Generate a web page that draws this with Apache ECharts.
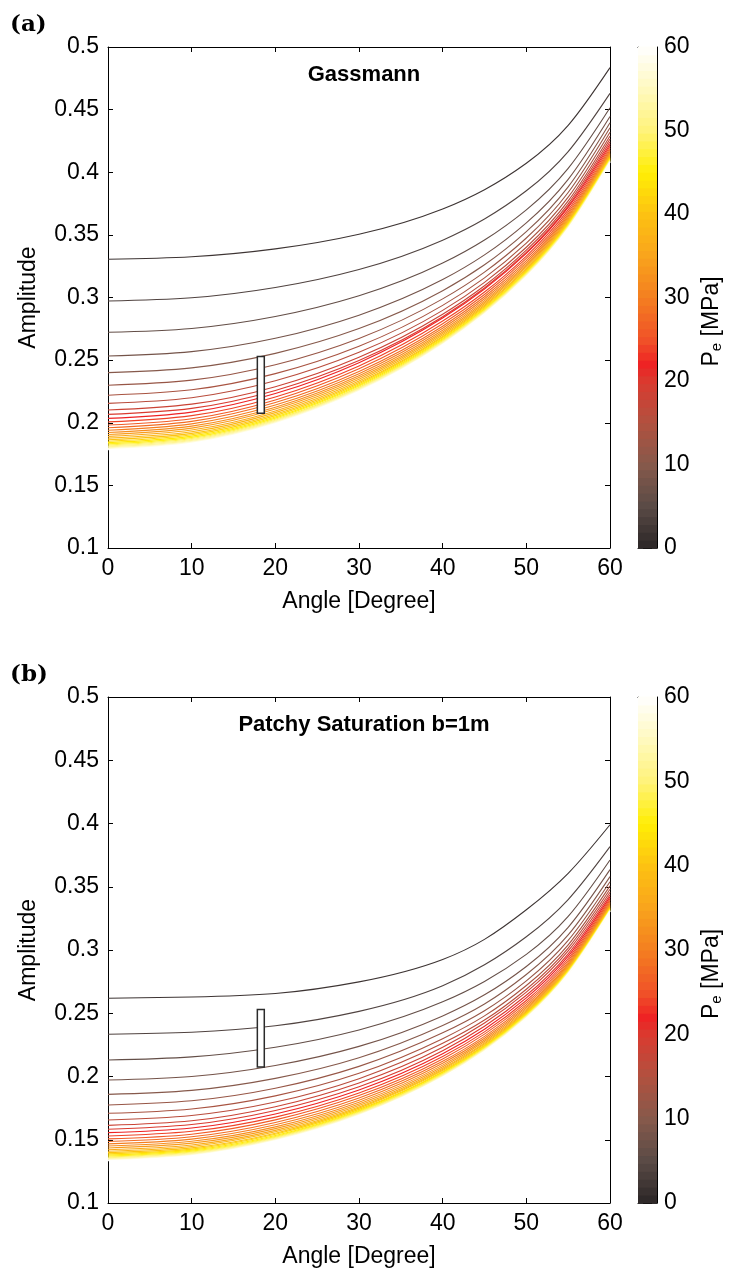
<!DOCTYPE html>
<html>
<head>
<meta charset="utf-8">
<script src="https://cdn.jsdelivr.net/npm/echarts@6/dist/echarts.min.js"></script>
<style>
  html, body { margin: 0; padding: 0; background: #ffffff; }
  #chart { width: 732px; height: 1272px; }
</style>
</head>
<body>
<div id="chart"></div>
<script>
// Incidence angles (degrees) at which each amplitude curve is sampled
const angles = [0, 10, 20, 30, 40, 45, 50, 55, 60];

// Effective pressure of each curve [MPa]
const pressures = [2, 4, 6, 8, 10, 12, 14, 16, 18, 20, 22, 24, 26, 28, 30,
                   32, 34, 36, 38, 40, 42, 44, 46, 48, 50, 52, 54, 56, 58, 60];

// Gassmann amplitudes, one row per pressure, one column per angle
const gassmann = [
  [0.3305, 0.3325, 0.3388, 0.3505, 0.3707, 0.3861, 0.4072, 0.4374, 0.4835],
  [0.2972, 0.2998, 0.3080, 0.3224, 0.3458, 0.3627, 0.3852, 0.4165, 0.4630],
  [0.2722, 0.2753, 0.2848, 0.3014, 0.3275, 0.3459, 0.3700, 0.4031, 0.4515],
  [0.2533, 0.2568, 0.2674, 0.2859, 0.3143, 0.3340, 0.3596, 0.3943, 0.4445],
  [0.2400, 0.2438, 0.2554, 0.2752, 0.3054, 0.3261, 0.3526, 0.3883, 0.4395],
  [0.2299, 0.2340, 0.2463, 0.2673, 0.2989, 0.3203, 0.3475, 0.3838, 0.4355],
  [0.2220, 0.2263, 0.2392, 0.2611, 0.2937, 0.3157, 0.3434, 0.3801, 0.4320],
  [0.2155, 0.2200, 0.2335, 0.2562, 0.2897, 0.3121, 0.3401, 0.3771, 0.4290],
  [0.2102, 0.2149, 0.2288, 0.2523, 0.2867, 0.3094, 0.3378, 0.3748, 0.4265],
  [0.2067, 0.2115, 0.2258, 0.2497, 0.2846, 0.3076, 0.3360, 0.3730, 0.4243],
  [0.2035, 0.2085, 0.2233, 0.2480, 0.2836, 0.3067, 0.3352, 0.3719, 0.4224],
  [0.2007, 0.2057, 0.2206, 0.2454, 0.2812, 0.3044, 0.3331, 0.3699, 0.4207],
  [0.1982, 0.2032, 0.2182, 0.2431, 0.2790, 0.3024, 0.3312, 0.3682, 0.4192],
  [0.1960, 0.2011, 0.2161, 0.2410, 0.2771, 0.3006, 0.3294, 0.3666, 0.4178],
  [0.1940, 0.1991, 0.2141, 0.2392, 0.2754, 0.2990, 0.3279, 0.3652, 0.4166],
  [0.1922, 0.1973, 0.2124, 0.2376, 0.2739, 0.2975, 0.3265, 0.3640, 0.4155],
  [0.1906, 0.1957, 0.2109, 0.2361, 0.2725, 0.2962, 0.3253, 0.3628, 0.4145],
  [0.1891, 0.1942, 0.2094, 0.2347, 0.2712, 0.2950, 0.3242, 0.3618, 0.4136],
  [0.1877, 0.1928, 0.2081, 0.2334, 0.2700, 0.2938, 0.3231, 0.3609, 0.4128],
  [0.1864, 0.1915, 0.2068, 0.2322, 0.2689, 0.2928, 0.3222, 0.3600, 0.4121],
  [0.1852, 0.1904, 0.2057, 0.2312, 0.2680, 0.2919, 0.3213, 0.3593, 0.4115],
  [0.1841, 0.1893, 0.2046, 0.2302, 0.2670, 0.2910, 0.3205, 0.3586, 0.4109],
  [0.1831, 0.1883, 0.2037, 0.2293, 0.2662, 0.2903, 0.3198, 0.3580, 0.4104],
  [0.1822, 0.1874, 0.2028, 0.2284, 0.2655, 0.2896, 0.3192, 0.3574, 0.4099],
  [0.1814, 0.1866, 0.2020, 0.2277, 0.2648, 0.2889, 0.3186, 0.3569, 0.4095],
  [0.1807, 0.1859, 0.2014, 0.2271, 0.2642, 0.2884, 0.3181, 0.3564, 0.4091],
  [0.1800, 0.1852, 0.2007, 0.2265, 0.2637, 0.2879, 0.3176, 0.3560, 0.4088],
  [0.1794, 0.1846, 0.2001, 0.2259, 0.2632, 0.2874, 0.3172, 0.3556, 0.4085],
  [0.1789, 0.1841, 0.1997, 0.2255, 0.2628, 0.2870, 0.3168, 0.3553, 0.4082],
  [0.1784, 0.1836, 0.1992, 0.2250, 0.2624, 0.2867, 0.3165, 0.3550, 0.4080]
];

// Patchy saturation (b = 1 m) amplitudes, same layout
const patchy = [
  [0.2618, 0.2629, 0.2656, 0.2748, 0.2925, 0.3084, 0.3318, 0.3606, 0.3990],
  [0.2334, 0.2350, 0.2401, 0.2515, 0.2717, 0.2883, 0.3105, 0.3399, 0.3817],
  [0.2130, 0.2155, 0.2231, 0.2368, 0.2590, 0.2751, 0.2965, 0.3265, 0.3711],
  [0.1972, 0.2000, 0.2087, 0.2238, 0.2479, 0.2646, 0.2870, 0.3179, 0.3635],
  [0.1859, 0.1890, 0.1985, 0.2148, 0.2403, 0.2573, 0.2806, 0.3119, 0.3580],
  [0.1775, 0.1808, 0.1907, 0.2080, 0.2345, 0.2520, 0.2756, 0.3076, 0.3540],
  [0.1709, 0.1743, 0.1847, 0.2025, 0.2299, 0.2479, 0.2719, 0.3041, 0.3507],
  [0.1656, 0.1692, 0.1798, 0.1983, 0.2262, 0.2446, 0.2690, 0.3015, 0.3480],
  [0.1614, 0.1650, 0.1761, 0.1949, 0.2231, 0.2423, 0.2667, 0.2993, 0.3457],
  [0.1583, 0.1620, 0.1731, 0.1919, 0.2204, 0.2397, 0.2642, 0.2970, 0.3437],
  [0.1556, 0.1593, 0.1704, 0.1894, 0.2180, 0.2374, 0.2621, 0.2951, 0.3420],
  [0.1530, 0.1567, 0.1679, 0.1870, 0.2158, 0.2353, 0.2601, 0.2933, 0.3405],
  [0.1507, 0.1544, 0.1657, 0.1849, 0.2138, 0.2335, 0.2584, 0.2917, 0.3392],
  [0.1486, 0.1524, 0.1637, 0.1830, 0.2120, 0.2317, 0.2568, 0.2903, 0.3380],
  [0.1467, 0.1505, 0.1618, 0.1812, 0.2104, 0.2302, 0.2554, 0.2891, 0.3370],
  [0.1450, 0.1488, 0.1602, 0.1797, 0.2090, 0.2289, 0.2542, 0.2880, 0.3361],
  [0.1435, 0.1473, 0.1588, 0.1783, 0.2077, 0.2277, 0.2531, 0.2870, 0.3353],
  [0.1421, 0.1459, 0.1574, 0.1770, 0.2066, 0.2266, 0.2521, 0.2861, 0.3346],
  [0.1409, 0.1447, 0.1563, 0.1759, 0.2056, 0.2257, 0.2512, 0.2854, 0.3340],
  [0.1398, 0.1436, 0.1552, 0.1750, 0.2047, 0.2248, 0.2505, 0.2847, 0.3335],
  [0.1388, 0.1426, 0.1543, 0.1740, 0.2038, 0.2241, 0.2498, 0.2841, 0.3330],
  [0.1379, 0.1418, 0.1534, 0.1732, 0.2031, 0.2234, 0.2492, 0.2836, 0.3326],
  [0.1371, 0.1410, 0.1526, 0.1725, 0.2024, 0.2227, 0.2486, 0.2831, 0.3322],
  [0.1364, 0.1403, 0.1520, 0.1719, 0.2019, 0.2222, 0.2481, 0.2827, 0.3319],
  [0.1358, 0.1397, 0.1514, 0.1713, 0.2014, 0.2218, 0.2477, 0.2823, 0.3316],
  [0.1352, 0.1391, 0.1508, 0.1708, 0.2009, 0.2213, 0.2473, 0.2819, 0.3313],
  [0.1347, 0.1386, 0.1503, 0.1703, 0.2005, 0.2209, 0.2469, 0.2816, 0.3311],
  [0.1342, 0.1381, 0.1499, 0.1699, 0.2001, 0.2206, 0.2466, 0.2814, 0.3309],
  [0.1338, 0.1377, 0.1495, 0.1695, 0.1997, 0.2202, 0.2463, 0.2811, 0.3307],
  [0.1334, 0.1373, 0.1491, 0.1692, 0.1994, 0.2199, 0.2460, 0.2809, 0.3305]
];

// Measured range box: [angle from, angle to, amplitude low, amplitude high]
const rangeBox = [17.85, 18.68, 0.2075, 0.2529];

// Axis ranges
const angleRange = [0, 60, 10];
const ampRange = [0.1, 0.5, 0.05];
const pressureRange = [0, 60, 10];

// Colormap for pressure: dark -> brown -> red -> orange -> yellow -> white
const cmapStops = [
  [0, '#2a2526'], [5, '#5a4b46'], [10, '#86594b'], [15, '#b1513f'],
  [20, '#da3a2f'], [22, '#ee2224'], [25, '#f05228'], [30, '#f47e20'],
  [35, '#f9a41c'], [40, '#fdc212'], [45, '#ffee05'], [50, '#fff37a'],
  [55, '#fff9bf'], [60, '#ffffff']
];

function hexToRgb(h) {
  return [parseInt(h.slice(1, 3), 16), parseInt(h.slice(3, 5), 16), parseInt(h.slice(5, 7), 16)];
}
function pressureColor(p) {
  for (let i = 1; i < cmapStops.length; i++) {
    const [p1, c1] = cmapStops[i];
    const [p0, c0] = cmapStops[i - 1];
    if (p <= p1) {
      const t = (p - p0) / (p1 - p0);
      const a = hexToRgb(c0), b = hexToRgb(c1);
      const c = a.map((v, k) => Math.round(v + (b[k] - v) * t));
      return 'rgb(' + c.join(',') + ')';
    }
  }
  return cmapStops[cmapStops.length - 1][1];
}

// Smooth path through pixel points: natural cubic spline written as bezier segments
function splinePath(pts) {
  const n = pts.length;
  const h = [], d = [];
  for (let i = 0; i < n - 1; i++) {
    h[i] = pts[i + 1][0] - pts[i][0];
    d[i] = (pts[i + 1][1] - pts[i][1]) / h[i];
  }
  const M = new Array(n).fill(0);
  if (n > 2) {
    const a = [], b = [], c = [], r = [];
    for (let i = 1; i < n - 1; i++) {
      a.push(h[i - 1]); b.push(2 * (h[i - 1] + h[i])); c.push(h[i]); r.push(6 * (d[i] - d[i - 1]));
    }
    const m = b.length;
    for (let i = 1; i < m; i++) {
      const w = a[i] / b[i - 1];
      b[i] -= w * c[i - 1];
      r[i] -= w * r[i - 1];
    }
    const sol = new Array(m);
    sol[m - 1] = r[m - 1] / b[m - 1];
    for (let i = m - 2; i >= 0; i--) sol[i] = (r[i] - c[i] * sol[i + 1]) / b[i];
    for (let i = 0; i < m; i++) M[i + 1] = sol[i];
  }
  let path = 'M' + pts[0][0] + ' ' + pts[0][1];
  for (let i = 0; i < n - 1; i++) {
    const s0 = d[i] - h[i] * (2 * M[i] + M[i + 1]) / 6;
    const s1 = d[i] + h[i] * (M[i] + 2 * M[i + 1]) / 6;
    const [x0, y0] = pts[i];
    const [x1, y1] = pts[i + 1];
    path += ' C' + (x0 + h[i] / 3) + ' ' + (y0 + s0 * h[i] / 3) + ' ' +
            (x1 - h[i] / 3) + ' ' + (y1 - s1 * h[i] / 3) + ' ' + x1 + ' ' + y1;
  }
  return path;
}

const FONT = '"Liberation Sans", Arial, Helvetica, sans-serif';
const INK = '#000000';
const LABEL_SIZE = 23;

const panels = [
  { top: 47, height: 501, values: gassmann, title: 'Gassmann', tag: '(a)' },
  { top: 697, height: 506, values: patchy, title: 'Patchy Saturation b=1m', tag: '(b)' }
];

const PLOT_LEFT = 108, PLOT_WIDTH = 502;
const BAR_LEFT = 638, BAR_WIDTH = 19;
const CMAP_LEVELS = 64;

const grid = [], xAxis = [], yAxis = [], series = [], graphic = [];

function boxAxis(base, extra) {
  return Object.assign({
    type: 'value',
    splitLine: { show: false },
    axisLine: { show: true, onZero: false, lineStyle: { color: INK, width: 1 } },
    axisTick: { show: true, inside: true, length: 5, lineStyle: { color: INK, width: 1 } },
    axisLabel: { show: false },
    animation: false
  }, base, extra || {});
}

panels.forEach((p, idx) => {
  const gPlot = grid.length;
  grid.push({ left: PLOT_LEFT, top: p.top, width: PLOT_WIDTH, height: p.height, containLabel: false });
  const gBar = grid.length;
  grid.push({ left: BAR_LEFT, top: p.top, width: BAR_WIDTH, height: p.height, containLabel: false });

  const labelStyle = { show: true, fontSize: LABEL_SIZE, fontFamily: FONT, color: INK };
  const nameStyle = { fontSize: LABEL_SIZE, fontFamily: FONT, color: INK };

  // plot axes (box with inward ticks)
  const xBottom = xAxis.length;
  xAxis.push(boxAxis({ gridIndex: gPlot, position: 'bottom', min: angleRange[0], max: angleRange[1], interval: angleRange[2] }, {
    axisLabel: Object.assign({ margin: 9 }, labelStyle),
    name: 'Angle [Degree]', nameLocation: 'middle', nameGap: 42, nameTextStyle: nameStyle
  }));
  xAxis.push(boxAxis({ gridIndex: gPlot, position: 'top', min: angleRange[0], max: angleRange[1], interval: angleRange[2] }));
  const yLeft = yAxis.length;
  yAxis.push(boxAxis({ gridIndex: gPlot, position: 'left', min: ampRange[0], max: ampRange[1], interval: ampRange[2] }, {
    axisLabel: Object.assign({ margin: 9 }, labelStyle),
    name: 'Amplitude', nameLocation: 'middle', nameGap: 68, nameRotate: 90, nameTextStyle: nameStyle
  }));
  yAxis.push(boxAxis({ gridIndex: gPlot, position: 'right', min: ampRange[0], max: ampRange[1], interval: ampRange[2] }));

  // colorbar axes
  const xBar = xAxis.length;
  xAxis.push(boxAxis({ gridIndex: gBar, position: 'bottom', min: 0, max: 1 }, { axisTick: { show: false } }));
  xAxis.push(boxAxis({ gridIndex: gBar, position: 'top', min: 0, max: 1 }, { axisTick: { show: false } }));
  const yBar = yAxis.length;
  yAxis.push(boxAxis({ gridIndex: gBar, position: 'left', min: pressureRange[0], max: pressureRange[1], interval: pressureRange[2] }, {
    axisTick: { show: true, inside: true, length: 5, lineStyle: { color: '#333', width: 1 } }
  }));
  yAxis.push(boxAxis({ gridIndex: gBar, position: 'right', min: pressureRange[0], max: pressureRange[1], interval: pressureRange[2] }, {
    axisTick: { show: true, inside: true, length: 5, lineStyle: { color: '#333', width: 1 } },
    axisLabel: Object.assign({ margin: 7 }, labelStyle)
  }));

  // colorbar cells
  const step = (pressureRange[1] - pressureRange[0]) / CMAP_LEVELS;
  const cells = [];
  for (let k = 0; k < CMAP_LEVELS; k++) {
    const lo = pressureRange[0] + k * step;
    cells.push({ value: [lo, lo + step], itemStyle: { color: pressureColor(lo + step / 2) } });
  }
  series.push({
    type: 'custom', xAxisIndex: xBar, yAxisIndex: yBar + 1, silent: true, animation: false, z: 1,
    data: cells,
    renderItem: (params, api) => {
      const a = api.coord([0, api.value(1)]);
      const b = api.coord([1, api.value(0)]);
      return { type: 'rect', shape: { x: a[0], y: a[1] - 0.5, width: b[0] - a[0], height: b[1] - a[1] + 1 },
               style: { fill: api.visual('color') } };
    }
  });

  // amplitude curves, one per pressure: each item holds [pressure, amplitude at each angle]
  series.push({
    type: 'custom', xAxisIndex: xBottom, yAxisIndex: yLeft, silent: true, animation: false, z: 2,
    encode: { x: -1, y: -1 },
    data: p.values.map((row, i) => [pressures[i]].concat(row)),
    renderItem: (params, api) => {
      const pts = angles.map((a, j) => api.coord([a, api.value(j + 1)]));
      return {
        type: 'path',
        shape: { pathData: splinePath(pts) },
        style: { fill: 'none', stroke: pressureColor(api.value(0)), lineWidth: 1.1 }
      };
    }
  });

  // range box drawn over the curves
  series.push({
    type: 'custom', xAxisIndex: xBottom, yAxisIndex: yLeft, silent: true, animation: false, z: 5,
    data: [rangeBox],
    renderItem: (params, api) => {
      const a = api.coord([api.value(0), api.value(3)]);
      const b = api.coord([api.value(1), api.value(2)]);
      return { type: 'rect', shape: { x: a[0], y: a[1], width: b[0] - a[0], height: b[1] - a[1] },
               style: { fill: '#ffffff', stroke: '#2b2b2b', lineWidth: 1.5 } };
    }
  });

  // panel tag, title and colorbar label
  graphic.push({
    type: 'text', left: 10, top: p.top - 33,
    style: { text: p.tag, font: 'bold 23px "DejaVu Serif", "Liberation Serif", serif', fill: INK }
  });
  graphic.push({
    type: 'text', x: 364, y: p.top + 28,
    style: { text: p.title, font: 'bold 22px ' + FONT, fill: INK, align: 'center', verticalAlign: 'middle' }
  });
  graphic.push({
    type: 'text', x: 712, y: p.top + p.height / 2 + 24, rotation: Math.PI / 2,
    style: {
      text: '{m|P}{s|e}{m| [MPa]}', align: 'center', verticalAlign: 'middle',
      rich: {
        m: { fontSize: LABEL_SIZE, fontFamily: FONT, fill: INK, lineHeight: 24, verticalAlign: 'top' },
        s: { fontSize: 15, fontFamily: FONT, fill: INK, lineHeight: 16, verticalAlign: 'bottom' }
      }
    }
  });
});

const chart = echarts.init(document.getElementById('chart'), null, { renderer: 'canvas' });
chart.setOption({
  backgroundColor: '#ffffff',
  animation: false,
  grid, xAxis, yAxis, series, graphic
});
</script>
</body>
</html>
